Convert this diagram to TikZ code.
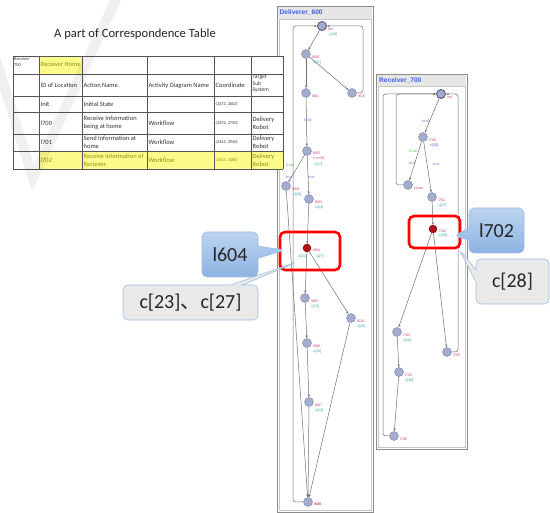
\documentclass[tikz,border=0pt]{standalone}
\usepackage{fontspec}
\setmainfont{Carlito}
\newfontfamily\arialfont{Liberation Sans}
\newfontfamily\cjkfont{Noto Sans CJK JP}
\usetikzlibrary{shapes.callouts,arrows.meta}
\definecolor{locfill}{HTML}{A3ABCF}
\definecolor{locdraw}{HTML}{7D86AD}
\definecolor{redfill}{HTML}{B01218}
\definecolor{edgec}{HTML}{707070}
\definecolor{namec}{HTML}{C0407A}
\definecolor{invc}{HTML}{2AA5A5}
\definecolor{guardc}{HTML}{4A4AC8}
\definecolor{selc}{HTML}{3CB43C}
\definecolor{titlec}{HTML}{3F5FE8}
\definecolor{barc}{HTML}{E6E6E6}
\definecolor{framec}{HTML}{8C8C8C}
\definecolor{hl}{HTML}{FCFC8C}
\definecolor{hltext}{HTML}{8F8F10}
\definecolor{tabline}{HTML}{555555}
\definecolor{bluetop}{HTML}{BCD4F0}
\definecolor{bluebot}{HTML}{8DB3E2}
\definecolor{calloutline}{HTML}{9DBEE4}
\definecolor{greyfill}{HTML}{E9E9E9}
\newcommand\labfont{\fontsize{3.6}{4}\selectfont\arialfont}
\begin{document}
\begin{tikzpicture}[x=1pt,y=-1pt,
  loc/.style={circle,fill=locfill,draw=locdraw,line width=0.4pt,inner sep=0pt,minimum size=9pt},
  initloc/.style={loc,draw=locdraw!70!black,line width=0.9pt},
  redloc/.style={circle,fill=redfill,draw=redfill!70!black,line width=0.4pt,inner sep=0pt,minimum size=8pt},
  edge/.style={draw=edgec,line width=0.5pt,-{Stealth[length=3pt,width=2.2pt]}},
  loopedge/.style={edge,rounded corners=3pt},
  lab/.style={anchor=west,inner sep=0pt,font=\labfont},
  lname/.style={lab,text=namec},
  linv/.style={lab,text=invc},
  lguard/.style={lab,text=guardc,anchor=center},
  lsel/.style={lab,text=selc,anchor=center},
  tcell/.style={anchor=west,inner sep=0pt,align=left,font=\fontsize{6.5}{7.6}\selectfont,text=black!80},
  tsmall/.style={tcell,font=\fontsize{4.4}{5.2}\selectfont},
  tcoord/.style={tcell,font=\fontsize{4.3}{5}\selectfont},
  ttarget/.style={tcell,font=\fontsize{5.6}{6.5}\selectfont},
  ttl/.style={anchor=west,inner sep=0pt,font=\fontsize{6.6}{7}\selectfont\arialfont\bfseries,text=titlec},
  redbox/.style={draw=red,line width=2.6pt,rounded corners=5pt},
  bluecall/.style={rectangle callout,callout pointer width=12pt,rounded corners=5pt,
    top color=bluetop,bottom color=bluebot,draw=calloutline,line width=0.6pt,
    font=\fontsize{20}{24}\selectfont,text=black!85,inner sep=0pt},
  greycall/.style={bluecall,top color=greyfill,bottom color=greyfill}
]
\useasboundingbox (0,0) rectangle (550,513);
\fill[white] (0,0) rectangle (550,513);

% ---------- Deliverer frame ----------
\draw[framec,line width=0.8pt] (277,6) rectangle (373,512);
\fill[barc] (278,7) rectangle (372,19);
\draw[framec!50,line width=0.4pt] (279,19) rectangle (371,510);
\node[ttl] (dtitle) at (279.5,13) {Deliverer\_600};

% ---------- Receiver frame ----------
\draw[framec,line width=0.8pt] (376,74) rectangle (467,449);
\fill[barc] (377,75) rectangle (466,86);
\draw[framec!50,line width=0.4pt] (378,86) rectangle (465,447);
\node[ttl] (rtitle) at (379,80.5) {Receiver\_700};

% ---------- Table ----------
\fill[white] (13,56) rectangle (283,169);
\fill[hl] (39,56) rectangle (82,74);
\fill[hl] (39,151) rectangle (283,169);
\foreach \yy in {56,74,96,112,134,151,169} \draw[tabline,line width=0.4pt] (13,\yy) -- (283,\yy);
\foreach \xx in {13,39,82,147,214,251,283} \draw[tabline,line width=0.4pt] (\xx,56) -- (\xx,169);
\node[font=\fontsize{12.6}{14}\selectfont,text=black!85] (title) at (135,34) {A part of Correspondence Table};
\node[tsmall] (t11) at (14,62) {Receiver\\700};
\node[tcell,text=hltext] (t12) at (40.5,64.5) {Reciever Home};
\node[tcell] (t22) at (40.5,85.5) {ID of Location};
\node[tcell] (t23) at (83.5,85.5) {Action Name};
\node[tcell] (t24) at (148.5,85.5) {Activity Diagram Name};
\node[tcell] (t25) at (215.5,85.5) {Coordinate};
\node[ttarget] (t26) at (252.5,84) {Target\\Sub\\System};
\node[tcell] (t32) at (40.5,104) {Init};
\node[tcell] (t33) at (83.5,104) {Initial State};
\node[tcoord] (t35) at (215.5,104) {(2473, 2603)};
\node[tcell] (t42) at (40.5,123.5) {l700};
\node[tcell] (t43) at (83.5,123) {Receive Information\\being at home};
\node[tcell] (t44) at (148.5,123.5) {Workflow};
\node[tcoord] (t45) at (215.5,123.5) {(2492, 2750)};
\node[tcell] (t46) at (252.5,123) {Delivery\\Robot};
\node[tcell] (t52) at (40.5,142.5) {l701};
\node[tcell] (t53) at (83.5,142.5) {Send Information at\\home};
\node[tcell] (t54) at (148.5,142.5) {Workflow};
\node[tcoord] (t55) at (215.5,142.5) {(2445, 2940)};
\node[tcell] (t56) at (252.5,142.5) {Delivery\\Robot};
\node[tcell,text=hltext] (t62) at (40.5,160) {l702};
\node[tcell,text=hltext] (t63) at (83.5,160) {Receive Information of\\Reciever};
\node[tcell,text=hltext] (t64) at (148.5,160) {Workflow};
\node[tcoord,text=hltext] (t65) at (215.5,160) {(2445, 3080)};
\node[tcell,text=hltext] (t66) at (252.5,160) {Delivery\\Robot};

% watermark
\draw[line width=10pt,black,opacity=0.06,line join=miter] (-4,60) -- (33,178) -- (118,-5);

% ---------- Deliverer nodes ----------
\node[initloc] (dinit) at (322,26) {};
\node[loc] (d600) at (306,54) {};
\node[loc] (d615) at (352,93) {};
\node[loc] (d601) at (306,93) {};
\node[loc] (d602) at (307,151) {};
\node[loc] (d609) at (286,186) {};
\node[loc] (d603) at (309,199) {};
\node[redloc] (d604) at (307,248) {};
\node[loc] (d605) at (305,298) {};
\node[loc] (d610) at (351,318) {};
\node[loc] (d606) at (307,343) {};
\node[loc] (d607) at (309,402) {};
\node[loc] (d608) at (308,502) {};

\draw[edge] (dinit) -- (d600);
\draw[edge] (d600) -- (d615);
\draw[loopedge] (d615) -- (363,93) -- (363,26) -- (dinit);
\draw[edge] (d600) -- (d601);
\draw[edge] (d601) -- (d602);
\draw[edge] (d602) -- (d609);
\draw[edge] (d602) -- (d603);
\draw[edge] (d603) -- (d604);
\draw[edge] (d604) -- (d605);
\draw[edge] (d604) -- (d610);
\draw[edge] (d605) -- (d606);
\draw[edge] (d606) -- (d607);
\draw[edge] (d607) -- (d608);
\draw[edge] (d610) -- (d608);
\draw[edge] (d609) -- (d608);
\draw[loopedge] (d608) -- (293,502) -- (293,26) -- (dinit);

\node[lname] (ldinit) at (328,29) {Init};
\node[linv] (ldinitc) at (329,35) {c[18]};
\node[lname] (ld600) at (312,57) {l600};
\node[linv] (ld600c) at (313,63) {c[27]};
\node[lname] (ld615) at (358,96) {l615};
\node[lname] (ld601) at (312,96) {l601};
\node[lguard] (gd1) at (308,120) {t>=0};
\node[lname] (ld602) at (313,153) {l602};
\node[lname] (ld602u) at (313,158) {t:=t+20};
\node[linv] (ld602c) at (314,165) {c[27]};
\node[lsel] (sd1) at (290,165) {t>=t2};
\node[lguard] (gd2) at (289,177) {t<=t};
\node[lguard] (gd3) at (311,177) {t>=t};
\node[lname] (ld609) at (292,189) {l609};
\node[linv] (ld609c) at (293,195) {c[28]};
\node[lname] (ld603) at (315,202) {l603};
\node[linv] (ld603c) at (315,208) {c[23]};
\node[lname] (ld604) at (313,250) {l604};
\node[linv,anchor=center] (ld604a) at (302,257) {c[23]};
\node[linv,anchor=center] (ld604b) at (320,257) {c[27]};
\node[lname] (ld605) at (311,301) {l605};
\node[linv] (ld605c) at (311,307) {c[24]};
\node[lname] (ld610) at (357,321) {l610};
\node[linv] (ld610c) at (357,327) {c[25]};
\node[lname] (ld606) at (313,346) {l606};
\node[linv] (ld606c) at (313,352) {c[26]};
\node[lname] (ld607) at (315,405) {l607};
\node[linv] (ld607c) at (315,411) {c[22]};
\node[lname,font=\labfont\bfseries] (ld608) at (314,504) {l608};

% ---------- Receiver nodes ----------
\node[initloc] (rinit) at (441,94) {};
\node[loc] (r700) at (423,137) {};
\node[loc] (rnone) at (408,185) {};
\node[loc] (r701) at (432,197) {};
\node[redloc] (r702) at (433,229) {};
\node[loc] (r703) at (397,332) {};
\node[loc] (r705) at (447,352) {};
\node[loc] (r704) at (399,372) {};
\node[loc] (rend) at (394,436) {};

\draw[edge] (rinit) -- (r700);
\draw[edge] (r700) -- (rnone);
\draw[loopedge] (rnone) -- (396,185) -- (396,94) -- (rinit);
\draw[loopedge] (rend) -- (383,436) -- (383,94) -- (rinit);
\draw[loopedge] (r705) -- (458,352) -- (458,94) -- (rinit);
\draw[edge] (r700) -- (r701);
\draw[edge] (r701) -- (r702);
\draw[edge] (r702) -- (r703);
\draw[edge] (r702) -- (r705);
\draw[edge] (r703) -- (r704);
\draw[edge] (r704) -- (rend);

\node[lname] (lrinit) at (447,97) {Init};
\node[lname] (lr700) at (429,140) {l700};
\node[lab,text=guardc!70!namec] (lr700c) at (430,146) {c[20]};
\node[lguard] (gr1) at (426,121) {t>=0};
\node[lsel] (sr1) at (413,151) {t>=t2};
\node[lguard] (gr2) at (412,163) {t<=t};
\node[lguard] (gr3) at (436,164) {t>=t};
\node[lname] (lrnone) at (414,188) {None};
\node[lname] (lr701) at (438,200) {l701};
\node[linv] (lr701c) at (438,206) {c[27]};
\node[lname] (lr702) at (439,231) {l702};
\node[linv] (lr702c) at (439,236) {c[28]};
\node[lname] (lr703) at (403,335) {l703};
\node[linv] (lr703c) at (403,341) {c[29]};
\node[lname] (lr705) at (453,355) {l705};
\node[lname] (lr704) at (405,375) {l704};
\node[linv] (lr704c) at (405,381) {c[30]};
\node[lname] (lrend) at (400,439) {l706};

% ---------- highlight boxes ----------
\draw[redbox] (280,232) rectangle (340,270);
\draw[redbox] (409,216) rectangle (460,248);

% ---------- callouts ----------
\node[bluecall,callout absolute pointer={(285,250)},minimum width=56pt,minimum height=45pt] (c604) at (230,254.5) {l604};
\node[greycall,callout absolute pointer={(297,262)},minimum width=135pt,minimum height=35pt] (c2327) at (190.5,302.5) {c[23]{\cjkfont 、}c[27]};
\node[bluecall,callout absolute pointer={(454,236)},minimum width=55pt,minimum height=45pt] (c702) at (496.5,230.5) {l702};
\node[greycall,callout absolute pointer={(459,249)},minimum width=73pt,minimum height=45pt] (c28) at (512.5,281.5) {c[28]};
\end{tikzpicture}
\end{document}
